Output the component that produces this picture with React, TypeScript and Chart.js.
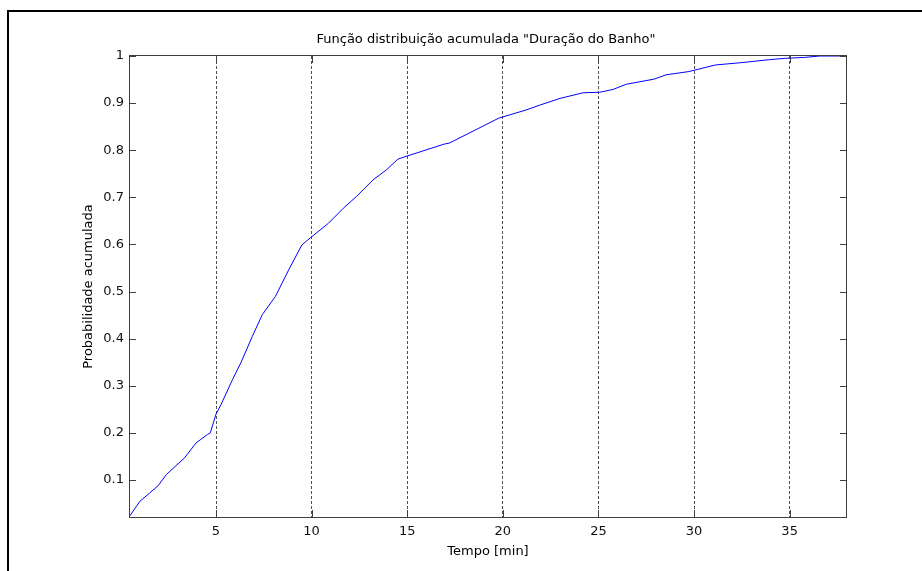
import React, { useEffect, useRef } from "react";
import { Chart, registerables } from "chart.js";

Chart.register(...registerables);

const TITLE = 'Função distribuição acumulada "Duração do Banho"';
const X_LABEL = "Tempo [min]";
const Y_LABEL = "Probabilidade acumulada";

const timeMin = [
  0.45, 1.02, 1.54, 1.97, 2.41, 3.35, 3.96, 4.56, 4.7, 5.0, 5.26, 5.86, 6.3, 6.9,
  7.42, 8.11, 8.8, 9.49, 9.93, 10.88, 11.66, 12.35, 13.21, 13.9, 14.51, 14.94,
  16.93, 17.19, 18.66, 19.78, 21.26, 21.95, 22.99, 24.2, 25.06, 25.76, 26.45,
  27.92, 28.53, 29.73, 31.12, 32.5, 33.89, 34.75, 35.79, 36.57, 38.0,
];
const cumProb = [
  0.0217, 0.055, 0.073, 0.088, 0.112, 0.147, 0.179, 0.197, 0.2, 0.24, 0.26, 0.313,
  0.349, 0.405, 0.451, 0.49, 0.546, 0.599, 0.614, 0.645, 0.677, 0.702, 0.737,
  0.758, 0.781, 0.787, 0.813, 0.815, 0.845, 0.868, 0.886, 0.896, 0.91, 0.922,
  0.923, 0.929, 0.94, 0.951, 0.96, 0.967, 0.981, 0.986, 0.992, 0.995, 0.997, 1.0,
  1.0,
];
const xTicks = [5, 10, 15, 20, 25, 30, 35];
const yTicks = [0.1, 0.2, 0.3, 0.4, 0.5, 0.6, 0.7, 0.8, 0.9, 1];

const X_MIN = 0.45;
const X_MAX = 38;
const Y_MIN = 0.0217;
const Y_MAX = 1;

const FONT = '"DejaVu Sans", sans-serif';
const AXIS_COLOR = "#404040";

const matlabFrame = {
  id: "matlabFrame",
  afterDraw(chart: any) {
    const { ctx, chartArea: a } = chart;
    const xs = chart.scales.x;
    const ys = chart.scales.y;
    ctx.save();
    // outer figure frame
    ctx.fillStyle = "#000";
    ctx.fillRect(7, 10, chart.width, 2);
    ctx.fillRect(7, 10, 2, chart.height);

    // axes box
    ctx.strokeStyle = AXIS_COLOR;
    ctx.lineWidth = 1;
    ctx.setLineDash([]);
    ctx.strokeRect(a.left + 0.5, a.top - 0.5, a.right - a.left - 1, a.bottom - a.top + 1);

    // inward ticks
    const TL = 7;
    ctx.beginPath();
    for (const v of xTicks) {
      const px = Math.round(xs.getPixelForValue(v)) + 0.5;
      ctx.moveTo(px, a.bottom);
      ctx.lineTo(px, a.bottom - TL);
      ctx.moveTo(px, a.top);
      ctx.lineTo(px, a.top + TL);
    }
    for (const v of yTicks) {
      const py = Math.round(ys.getPixelForValue(v)) + 0.5;
      ctx.moveTo(a.left, py);
      ctx.lineTo(a.left + TL, py);
      ctx.moveTo(a.right, py);
      ctx.lineTo(a.right - TL, py);
    }
    ctx.stroke();

    // texts
    ctx.fillStyle = "#000";
    ctx.font = `13px ${FONT}`;
    ctx.textAlign = "center";
    ctx.textBaseline = "alphabetic";
    const cx = (a.left + a.right) / 2;
    ctx.fillText(TITLE, cx - 2, 43);
    ctx.fillText(X_LABEL, cx, 555);
    ctx.translate(92, (a.top + a.bottom) / 2);
    ctx.rotate(-Math.PI / 2);
    ctx.fillText(Y_LABEL, 0, 0);
    ctx.restore();
  },
};

export default function App() {
  const canvasRef = useRef<HTMLCanvasElement | null>(null);

  useEffect(() => {
    const canvas = canvasRef.current;
    if (!canvas) return;
    const data = timeMin.map((x, i) => ({ x, y: cumProb[i] }));
    const chart = new Chart(canvas, {
      type: "scatter",
      data: {
        datasets: [
          {
            data,
            showLine: true,
            borderColor: "#0000ff",
            borderWidth: 1,
            pointRadius: 0,
            tension: 0,
          },
        ],
      },
      options: {
        animation: false,
        responsive: false,
        devicePixelRatio: 1,
        layout: { padding: { left: 0, top: 56, right: 75, bottom: 0 } },
        plugins: {
          legend: { display: false },
          title: { display: false },
          tooltip: { enabled: false },
        },
        scales: {
          x: {
            type: "linear",
            min: X_MIN,
            max: X_MAX,
            afterBuildTicks: (scale: any) => {
              scale.ticks = xTicks.map((v) => ({ value: v }));
            },
            afterFit: (scale: any) => {
              scale.height = 54;
            },
            grid: {
              display: true,
              drawOnChartArea: true,
              drawTicks: false,
              color: "#505050",
              lineWidth: 1,
            },
            border: { display: false, dash: [3, 2] },
            ticks: {
              autoSkip: false,
              maxRotation: 0,
              padding: 7,
              color: "#111",
              font: { family: FONT, size: 13 },
              callback: (v: any) => String(v),
            },
          },
          y: {
            type: "linear",
            min: Y_MIN,
            max: Y_MAX,
            afterBuildTicks: (scale: any) => {
              scale.ticks = yTicks.map((v) => ({ value: v }));
            },
            afterFit: (scale: any) => {
              scale.width = 129;
            },
            grid: { display: false, drawTicks: false },
            border: { display: false },
            ticks: {
              autoSkip: false,
              padding: 5,
              color: "#111",
              font: { family: FONT, size: 13 },
              callback: (v: any) => String(Number(Number(v).toFixed(1))),
            },
          },
        },
      },
      plugins: [matlabFrame],
    });
    return () => chart.destroy();
  }, []);

  return (
    <div
      style={{
        position: "absolute",
        left: 0,
        top: 0,
        width: 922,
        height: 571,
        background: "#fff",
      }}
    >
      <canvas ref={canvasRef} width={922} height={571} style={{ width: 922, height: 571 }} />
    </div>
  );
}
